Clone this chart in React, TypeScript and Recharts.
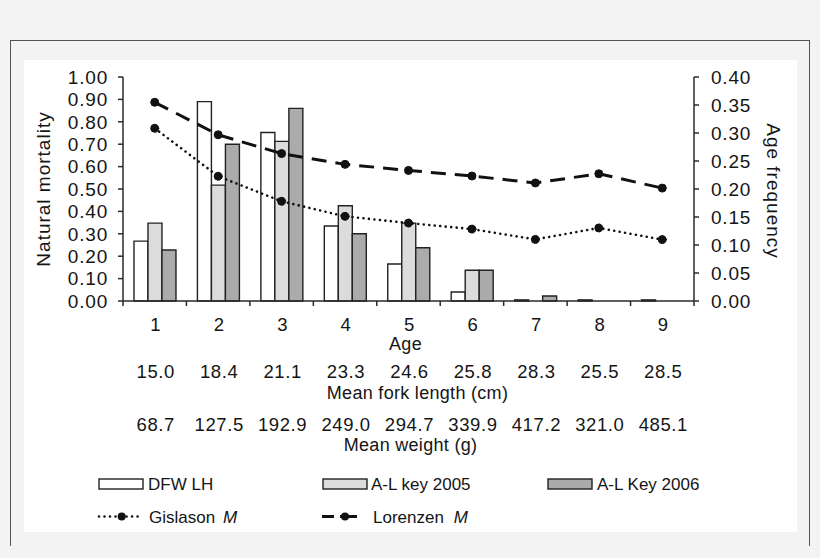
import React from 'react';
import { ComposedChart, Bar, Line, XAxis, YAxis, Legend } from 'recharts';

const ages = ['1', '2', '3', '4', '5', '6', '7', '8', '9'];
const dfwLH = [0.107, 0.356, 0.301, 0.134, 0.066, 0.016, 0.002, 0.002, 0.002];
const alKey2005 = [0.139, 0.207, 0.285, 0.17, 0.139, 0.055, 0, 0, 0];
const alKey2006 = [0.091, 0.28, 0.344, 0.12, 0.095, 0.055, 0.009, 0, 0];
const gislasonM = [0.771, 0.557, 0.445, 0.378, 0.348, 0.321, 0.275, 0.326, 0.274];
const lorenzenM = [0.887, 0.742, 0.658, 0.61, 0.583, 0.558, 0.527, 0.568, 0.504];
const meanForkLength = ['15.0', '18.4', '21.1', '23.3', '24.6', '25.8', '28.3', '25.5', '28.5'];
const meanWeight = ['68.7', '127.5', '192.9', '249.0', '294.7', '339.9', '417.2', '321.0', '485.1'];
const leftTicks = [0, 0.1, 0.2, 0.3, 0.4, 0.5, 0.6, 0.7, 0.8, 0.9, 1.0];
const rightTicks = [0, 0.05, 0.1, 0.15, 0.2, 0.25, 0.3, 0.35, 0.4];
const barLabels = ['DFW LH', 'A-L key 2005', 'A-L Key 2006'];
const lineLabels = ['Gislason', 'Lorenzen'];

const data = ages.map((age, i) => ({
  age,
  dfw: dfwLH[i],
  al2005: alKey2005[i],
  al2006: alKey2006[i],
  gislason: gislasonM[i],
  lorenzen: lorenzenM[i],
}));

const FONT = '"Liberation Sans", Arial, sans-serif';
const TEXT = '#151515';
const AXIS = '#2a2a2a';
const W = 820;
const H = 558;
const LEFT_W = 123;
const RIGHT_W = 126;
const PLOT_W = W - LEFT_W - RIGHT_W;
const FILL_WHITE = '#ffffff';
const FILL_LIGHT = '#dcdcdc';
const FILL_DARK = '#ababab';

function AgeTick(props: any) {
  const { x, y, payload, index } = props;
  const base = y - 5;
  const bw = PLOT_W / ages.length;
  return (
    <g fontFamily={FONT} fontSize={18.5} fill={TEXT} letterSpacing={0.6}>
      <line x1={x - bw / 2} x2={x - bw / 2} y1={base} y2={base + 5} stroke={AXIS} strokeWidth={1.5} />
      {index === ages.length - 1 && (
        <line x1={x + bw / 2} x2={x + bw / 2} y1={base} y2={base + 5} stroke={AXIS} strokeWidth={1.5} />
      )}
      <text x={x + 1} y={base + 30} textAnchor="middle">{payload.value}</text>
      <text x={x + 1} y={base + 76.5} textAnchor="middle">{meanForkLength[index]}</text>
      <text x={x + 1} y={base + 130} textAnchor="middle">{meanWeight[index]}</text>
    </g>
  );
}

function XTitles(props: any) {
  const { viewBox } = props;
  const { x, y, width } = viewBox;
  const cx = x + width / 2;
  return (
    <g fontFamily={FONT} fontSize={18} fill={TEXT} letterSpacing={0.3}>
      <text x={cx - 3} y={y + 48.5} textAnchor="middle">Age</text>
      <text x={cx + 9} y={y + 98} textAnchor="middle">Mean fork length (cm)</text>
      <text x={cx + 2} y={y + 149.5} textAnchor="middle">Mean weight (g)</text>
    </g>
  );
}

function LeftTitle(props: any) {
  const { viewBox } = props;
  const cx = viewBox.x + 43;
  const cy = viewBox.y + viewBox.height / 2;
  return (
    <text x={cx} y={cy} transform={`rotate(-90, ${cx}, ${cy})`} textAnchor="middle" dominantBaseline="central"
      fontFamily={FONT} fontSize={19} letterSpacing={1} fill={TEXT}>Natural mortality</text>
  );
}

function RightTitle(props: any) {
  const { viewBox } = props;
  const cx = viewBox.x + 79;
  const cy = viewBox.y + viewBox.height / 2 + 2;
  return (
    <text x={cx} y={cy} transform={`rotate(90, ${cx}, ${cy})`} textAnchor="middle" dominantBaseline="central"
      fontFamily={FONT} fontSize={19} letterSpacing={1} fill={TEXT}>Age frequency</text>
  );
}

const LEG_TOP = 460;

function LegendContent() {
  const r1 = 24;
  const r2 = 56.5;
  const fills = [FILL_WHITE, FILL_LIGHT, FILL_DARK];
  const swatchX = [99, 323, 548];
  const textX = [148, 371, 597];
  return (
    <svg width={W} height={80} style={{ display: 'block' }}>
      <g fontFamily={FONT} fontSize={17} fill={TEXT}>
        {barLabels.map((lab, i) => (
          <g key={lab}>
            <rect x={swatchX[i]} y={r1 - 5} width={44} height={10} fill={fills[i]} stroke="#222" strokeWidth={1.4} />
            <text x={textX[i]} y={r1 + 6}>{lab}</text>
          </g>
        ))}
        <line x1={99} x2={143} y1={r2} y2={r2} stroke="#111" strokeWidth={2.6} strokeDasharray="0.01 5.5" strokeLinecap="round" />
        <circle cx={121.7} cy={r2} r={4} fill="#111" />
        <text x={149} y={r2 + 6}>
          {lineLabels[0] + ' '}
          <tspan fontStyle="italic" dx={3}>M</tspan>
        </text>
        <line x1={322} x2={334} y1={r2} y2={r2} stroke="#111" strokeWidth={3} />
        <line x1={340} x2={357} y1={r2} y2={r2} stroke="#111" strokeWidth={3} />
        <circle cx={345} cy={r2} r={4} fill="#111" />
        <text x={373} y={r2 + 6}>
          {lineLabels[1] + ' '}
          <tspan fontStyle="italic" dx={5}>M</tspan>
        </text>
      </g>
    </svg>
  );
}

export default function App() {
  return (
    <div style={{ position: 'absolute', left: 0, top: 0, width: W, height: H, background: '#f3f3f3', overflow: 'hidden' }}>
      <div style={{ position: 'absolute', left: 10, top: 40, width: 798, height: 505, borderTop: '1.5px solid #555', borderLeft: '1.5px solid #555', borderRight: '1.5px solid #555' }} />
      <div style={{ position: 'absolute', left: 24, top: 60, width: 773, height: 472, background: '#ffffff' }} />
      <div style={{ position: 'absolute', left: 0, top: 0 }}>
        <ComposedChart
          width={W}
          height={H}
          data={data}
          margin={{ top: 77, right: 0, bottom: 0, left: 0 }}
          barCategoryGap="17.3%"
          barGap={0}
        >
          <XAxis
            dataKey="age"
            height={257}
            tickLine={false}
            tickSize={5}
            tickMargin={0}
            axisLine={{ stroke: AXIS, strokeWidth: 1.5 }}
            tick={<AgeTick />}
            interval={0}
            label={<XTitles />}
          />
          <YAxis
            yAxisId="left"
            orientation="left"
            width={LEFT_W}
            domain={[0, 1]}
            ticks={leftTicks}
            tickFormatter={(v: number) => v.toFixed(2)}
            tickSize={5}
            tickMargin={10}
            axisLine={{ stroke: AXIS, strokeWidth: 1.5 }}
            tickLine={{ stroke: AXIS, strokeWidth: 1.5 }}
            tick={{ fontFamily: FONT, fontSize: 19, fill: TEXT, letterSpacing: 0.8 }}
            interval={0}
            label={<LeftTitle />}
          />
          <YAxis
            yAxisId="right"
            orientation="right"
            width={RIGHT_W}
            domain={[0, 0.4]}
            ticks={rightTicks}
            tickFormatter={(v: number) => v.toFixed(2)}
            tickSize={5}
            tickMargin={12}
            axisLine={{ stroke: AXIS, strokeWidth: 1.5 }}
            tickLine={{ stroke: AXIS, strokeWidth: 1.5 }}
            tick={{ fontFamily: FONT, fontSize: 19, fill: TEXT, textAnchor: 'start', letterSpacing: 0.8 }}
            interval={0}
            label={<RightTitle />}
          />
          <Bar yAxisId="right" dataKey="dfw" name={barLabels[0]} fill={FILL_WHITE} stroke="#222" strokeWidth={1.4} isAnimationActive={false} />
          <Bar yAxisId="right" dataKey="al2005" name={barLabels[1]} fill={FILL_LIGHT} stroke="#222" strokeWidth={1.4} isAnimationActive={false} />
          <Bar yAxisId="right" dataKey="al2006" name={barLabels[2]} fill={FILL_DARK} stroke="#222" strokeWidth={1.4} isAnimationActive={false} />
          <Line yAxisId="left" type="linear" dataKey="gislason" name="Gislason M" stroke="#111" strokeWidth={2.6}
            strokeDasharray="0.01 5.5" strokeLinecap="round"
            dot={{ r: 4, fill: '#111', stroke: '#111', strokeWidth: 1, strokeDasharray: '' }} activeDot={false} isAnimationActive={false} />
          <Line yAxisId="left" type="linear" dataKey="lorenzen" name="Lorenzen M" stroke="#111" strokeWidth={3}
            strokeDasharray="15 9"
            dot={{ r: 4, fill: '#111', stroke: '#111', strokeWidth: 1, strokeDasharray: '' }} activeDot={false} isAnimationActive={false} />
          <Legend
            verticalAlign="middle"
            align="center"
            layout="horizontal"
            content={<LegendContent />}
            wrapperStyle={{ position: 'absolute', left: 0, top: LEG_TOP, width: W, height: 80 }}
          />
        </ComposedChart>
      </div>
    </div>
  );
}
